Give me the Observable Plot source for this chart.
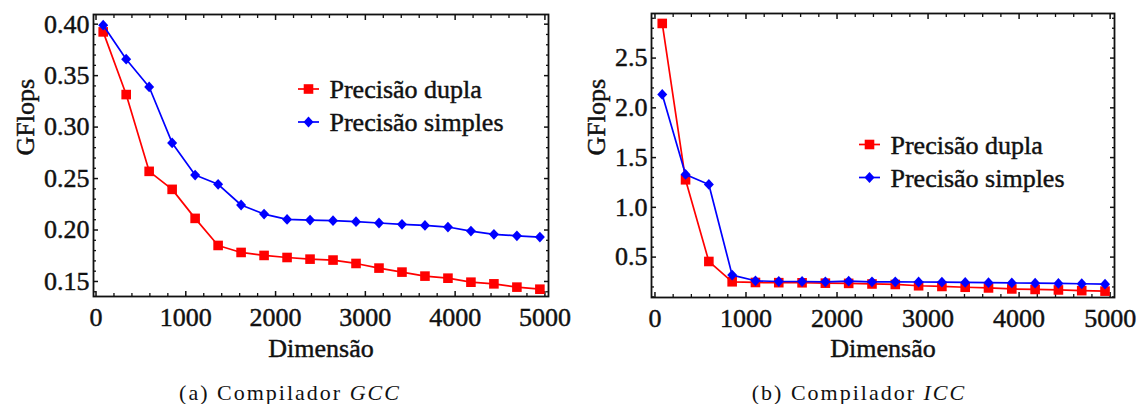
<!DOCTYPE html>
<html><head><meta charset="utf-8">
<script src="https://cdn.jsdelivr.net/npm/d3@7"></script>
<script src="https://cdn.jsdelivr.net/npm/@observablehq/plot@0.6"></script>
<style>
body{margin:0;background:#fff;width:1137px;height:404px;position:relative;overflow:hidden;font-family:"Liberation Serif",serif;color:#111}
.panel{position:absolute;top:0}
.panel svg text{stroke:#111;stroke-width:0.45px;paint-order:stroke}
.cap{position:absolute;top:379px;font-size:22px;letter-spacing:2px;white-space:nowrap;transform:translateX(-50%);line-height:28px}
</style></head><body>
<div id="a" class="panel" style="left:0px"></div>
<div id="b" class="panel" style="left:570px"></div>
<div class="cap" style="left:290px">(a) Compilador <i>GCC</i></div>
<div class="cap" style="left:859px">(b) Compilador <i>ICC</i></div>
<script>
const seriesNames = ["Precisão dupla", "Precisão simples"];
const dims = [80, 336, 592, 848, 1104, 1360, 1616, 1872, 2128, 2384, 2640, 2896, 3152, 3408, 3664, 3920, 4176, 4432, 4688, 4944];
const gccDupla = [0.3925, 0.3316, 0.2570, 0.2395, 0.2113, 0.1850, 0.1782, 0.1753, 0.1733, 0.1717, 0.1708, 0.1675, 0.1630, 0.1591, 0.1552, 0.1532, 0.1493, 0.1477, 0.1445, 0.1425];
const gccSimples = [0.3990, 0.3660, 0.3390, 0.2846, 0.2534, 0.2444, 0.2243, 0.2155, 0.2103, 0.2097, 0.2091, 0.2081, 0.2068, 0.2055, 0.2045, 0.2029, 0.1990, 0.1958, 0.1944, 0.1931];
const iccDupla = [2.848, 1.277, 0.456, 0.252, 0.245, 0.243, 0.242, 0.238, 0.236, 0.230, 0.225, 0.212, 0.205, 0.197, 0.190, 0.180, 0.175, 0.170, 0.163, 0.158];
const iccSimples = [2.135, 1.331, 1.230, 0.319, 0.262, 0.255, 0.255, 0.252, 0.258, 0.252, 0.252, 0.250, 0.248, 0.245, 0.243, 0.240, 0.238, 0.235, 0.232, 0.228];
const xTicks = [0, 1000, 2000, 3000, 4000, 5000];
const gccYTicks = [0.15, 0.20, 0.25, 0.30, 0.35, 0.40];
const iccYTicks = [0.5, 1.0, 1.5, 2.0, 2.5];
const xLabel = "Dimensão";
const yLabel = "GFlops";
const colors = ["#ff0000", "#0000ff"];

const squareSym = {draw(ctx){ctx.rect(-4.8,-4.8,9.6,9.6);}};
const diamondSym = {draw(ctx){ctx.moveTo(0,-5.4);ctx.lineTo(5,0);ctx.lineTo(0,5.4);ctx.lineTo(-5,0);ctx.closePath();}};
const lineSym = {draw(ctx){ctx.moveTo(-10.5,0);ctx.lineTo(10.5,0);}};
const symbols = [squareSym, diamondSym];

function panel(o) {
  const xMinor = d3.range(-200, 5200, 200).filter(v => v % 1000 !== 0 && v >= o.xDomain[0] && v <= o.xDomain[1]);
  const yMinor = d3.range(Math.round(o.yDomain[0]/o.yStep), Math.round(o.yDomain[1]/o.yStep)+1)
    .map(k => +(k*o.yStep).toFixed(4))
    .filter(v => v >= o.yDomain[0] && v <= o.yDomain[1] && !o.yMajor.some(m => Math.abs(m - v) < 1e-6));
  const series = [o.dupla, o.simples].map(vals => dims.map((d, i) => ({x: d, y: vals[i]})));
  const ax = {tickSize: -5, strokeWidth: 1.5, label: null, stroke: "#111"};
  const mx = {tickSize: -3, strokeWidth: 1.3, label: null, tickFormat: () => "", stroke: "#111"};
  const marks = [
    Plot.axisX(xTicks, {...ax, anchor: "bottom", tickPadding: 16, tickFormat: d3.format("d"), fontSize: 26, fill: "#111"}),
    Plot.axisX(xMinor, {...mx, anchor: "bottom"}),
    Plot.axisX(xTicks, {...ax, anchor: "top", tickFormat: () => ""}),
    Plot.axisX(xMinor, {...mx, anchor: "top"}),
    Plot.axisY(o.yMajor, {...ax, anchor: "left", tickPadding: 9, tickFormat: o.yFmt, fontSize: 26, fill: "#111"}),
    Plot.axisY(yMinor, {...mx, anchor: "left"}),
    Plot.axisY(o.yMajor, {...ax, anchor: "right", tickFormat: () => ""}),
    Plot.axisY(yMinor, {...mx, anchor: "right"}),
    Plot.frame({stroke: "#111", strokeWidth: 1.8})
  ];
  series.forEach((data, i) => {
    marks.push(Plot.line(data, {x: "x", y: "y", stroke: colors[i], strokeWidth: 1.7}));
    marks.push(Plot.dot(data, {x: "x", y: "y", fill: colors[i], symbol: symbols[i], r: 5, stroke: "none"}));
  });
  seriesNames.forEach((name, i) => {
    marks.push(Plot.dot([name], {frameAnchor: "top-left", dx: o.legDx, dy: o.legRows[i], symbol: lineSym, r: 5, stroke: colors[i], fill: "none", strokeWidth: 1.7}));
    marks.push(Plot.dot([name], {frameAnchor: "top-left", dx: o.legDx, dy: o.legRows[i], symbol: symbols[i], r: 5, fill: colors[i], stroke: "none"}));
    marks.push(Plot.text([name], {frameAnchor: "top-left", dx: o.legDx + 21, dy: o.legRows[i] - 9, text: d => d, textAnchor: "start", fontSize: 26, fill: "#111"}));
  });
  marks.push(Plot.text([xLabel], {frameAnchor: "bottom", dy: o.xLabDy, text: d => d, fontSize: 26, fill: "#111"}));
  marks.push(Plot.text([yLabel], {frameAnchor: "left", dx: o.yLabDx, rotate: -90, text: d => d, fontSize: 26, fill: "#111"}));
  return Plot.plot({
    width: o.width, height: 372,
    marginLeft: o.mL, marginRight: o.mR, marginTop: o.mT, marginBottom: o.mB,
    x: {domain: o.xDomain},
    y: {domain: o.yDomain},
    style: {fontFamily: "'Liberation Serif', serif", fontSize: "26px", color: "#111", background: "transparent", overflow: "visible"},
    marks
  });
}

document.getElementById("a").append(panel({
  width: 570, mL: 93, mR: 22, mT: 14, mB: 76,
  xDomain: [-28, 5040], yDomain: [0.1354, 0.4094], yMajor: gccYTicks, yStep: 0.01, yFmt: d3.format(".2f"),
  dupla: gccDupla, simples: gccSimples,
  legDx: 215, legRows: [74.5, 107.5], xLabDy: 60, yLabDx: -68
}));
document.getElementById("b").append(panel({
  width: 567, mL: 81, mR: 23, mT: 13, mB: 75,
  xDomain: [-38, 5048], yDomain: [0.094, 2.948], yMajor: iccYTicks, yStep: 0.1, yFmt: d3.format(".1f"),
  dupla: iccDupla, simples: iccSimples,
  legDx: 218, legRows: [131, 164], xLabDy: 59, yLabDx: -55
}));
</script>
</body></html>
